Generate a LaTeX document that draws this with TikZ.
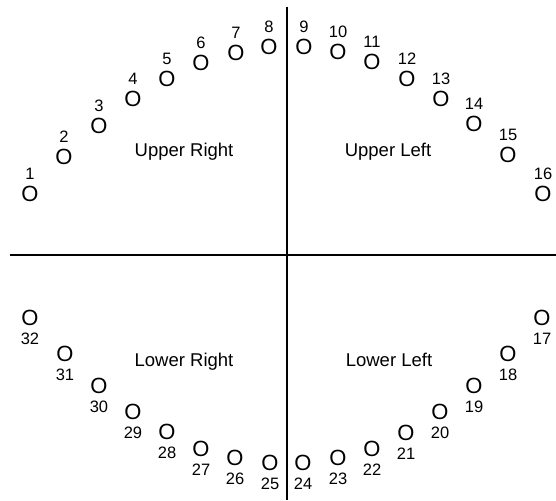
\documentclass[tikz,border=0pt]{standalone}
\usepackage{fontspec}
\setmainfont{Liberation Sans}
\begin{document}
\begin{tikzpicture}[x=1pt,y=-1pt,
  seat/.style={inner sep=0pt, font=\fontsize{22}{23}\selectfont},
  num/.style={inner sep=0pt, font=\fontsize{16.5}{17}\selectfont},
  quad/.style={inner sep=0pt, anchor=base, font=\fontsize{18.5}{20}\selectfont},
  axis/.style={line width=2.2pt}]
\useasboundingbox (0,0) rectangle (556,500);
\coordinate (hl) at (10,255);
\coordinate (hr) at (556,255);
\coordinate (vt) at (287,7);
\coordinate (vb) at (287,500);
\draw[axis] (hl) -- (hr);
\draw[axis] (vt) -- (vb);
\foreach \i/\x/\y in {1/30/193.5, 2/64/157, 3/99/126, 4/133/99, 5/167/79, 6/201/63, 7/236/53, 8/269/47,
  9/304/47, 10/338/52, 11/372/62, 12/407/79, 13/441/99, 14/474/124, 15/508/155, 16/543/193.5}{
  \node[seat] (o\i) at (\x,\y) {O};
  \node[num] (l\i) at (\x,\y-20) {\i};
}
\foreach \i/\x/\y in {17/542/318, 18/508/354, 19/474/386, 20/440/412, 21/406/433, 22/372/449, 23/338/458, 24/303/463,
  25/270/463, 26/235/458, 27/201/449, 28/167/432, 29/133/412, 30/99/386, 31/65/354, 32/30/318}{
  \node[seat] (o\i) at (\x,\y) {O};
  \node[num] (l\i) at (\x,\y+21) {\i};
}
\node[quad] (ur) at (184,156) {Upper Right};
\node[quad] (ul) at (388,156) {Upper Left};
\node[quad] (lr) at (184,366) {Lower Right};
\node[quad] (ll) at (389,366.5) {Lower Left};
\end{tikzpicture}
\end{document}
